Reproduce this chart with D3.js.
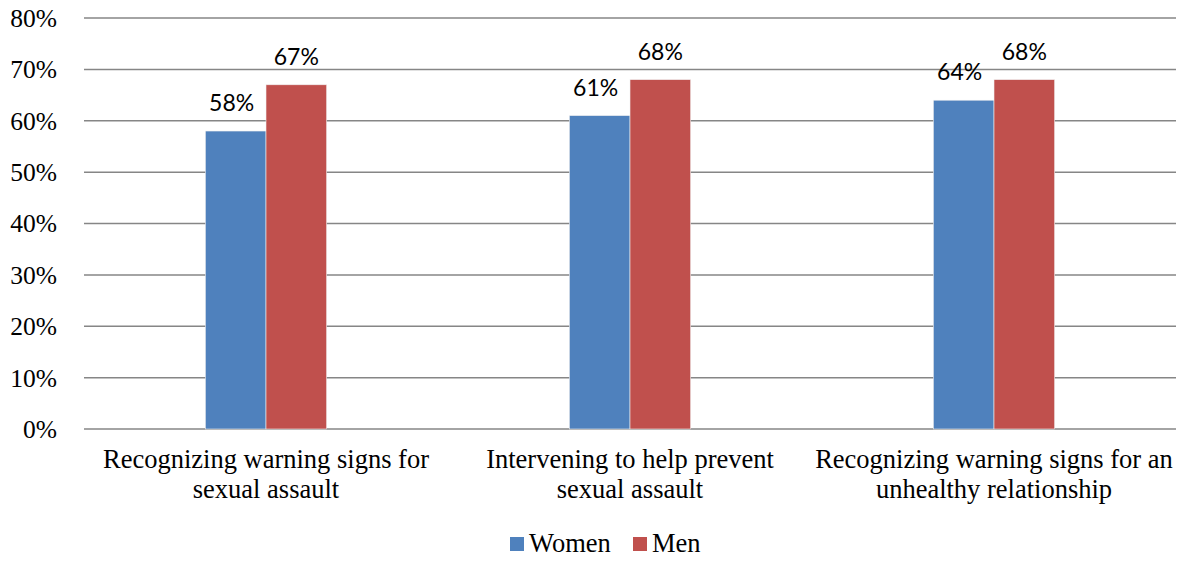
<!DOCTYPE html>
<html><head><meta charset="utf-8">
<script src="https://cdn.jsdelivr.net/npm/d3@7/dist/d3.min.js"></script>
<style>body{margin:0;background:#fff}svg{display:block}
.serif{font-family:"Liberation Serif","Tinos","Times New Roman","DejaVu Serif",serif;}
.sans{font-family:"Lato","Open Sans",sans-serif;}
</style>
</head><body>
<svg id="c" width="1182" height="561"></svg>
<script>
const categories = [
  ["Recognizing warning signs for", "sexual assault"],
  ["Intervening to help prevent", "sexual assault"],
  ["Recognizing warning signs for an", "unhealthy relationship"]
];
const seriesNames = ["Women", "Men"];
const women = [58, 61, 64];
const men = [67, 68, 68];
const yTicks = [0, 10, 20, 30, 40, 50, 60, 70, 80];
const colors = ["#4F81BD", "#C0504D"];

(function(){
const svg = d3.select("#c");
const pLeft = 84, pRight = 1176, pTop = 18, pBottom = 429;
const x = d3.scaleBand().domain(d3.range(categories.length)).range([pLeft, pRight]).padding(0);
const y = d3.scaleLinear().domain([0, 80]).range([pBottom, pTop]);
const xs = d3.scaleBand().domain(seriesNames).range([x.bandwidth()/3, x.bandwidth()*2/3]).padding(0);

svg.append("g").selectAll("line").data(yTicks).join("line")
  .attr("x1", pLeft).attr("x2", pRight)
  .attr("y1", d => y(d)).attr("y2", d => y(d))
  .attr("stroke", "#868686").attr("stroke-width", 1.5);

svg.append("g").selectAll("text").data(yTicks).join("text")
  .attr("class", "serif")
  .attr("x", 57).attr("y", d => y(d)).attr("dy", "0.35em")
  .attr("text-anchor", "end")
  .style("font-size", "25.5px").attr("fill", "#000")
  .text(d => d + "%");

const series = [women, men];
series.forEach((vals, si) => {
  const g = svg.append("g");
  g.selectAll("rect").data(vals).join("rect")
    .attr("x", (d, i) => x(i) + xs(seriesNames[si]))
    .attr("width", xs.bandwidth())
    .attr("y", d => y(d))
    .attr("height", d => y(0) - y(d))
    .attr("fill", colors[si])
    .attr("stroke", "#f0f0f0").attr("stroke-width", 0.6);
  g.selectAll("text").data(vals).join("text")
    .attr("class", "sans")
    .attr("x", (d, i) => x(i) + xs(seriesNames[si]) + xs.bandwidth()/2 - (si === 0 ? 4 : 0))
    .attr("y", d => y(d) - 20)
    .attr("text-anchor", "middle")
    .style("font-size", "23px").attr("fill", "#000")
    .text(d => d + "%");
});

const cl = svg.append("g").selectAll("text").data(categories).join("text")
  .attr("class", "serif")
  .attr("text-anchor", "middle")
  .style("font-size", "26.5px").attr("fill", "#000");
cl.selectAll("tspan").data((d, i) => d.map(t => ({t, i}))).join("tspan")
  .attr("x", d => x(d.i) + x.bandwidth()/2)
  .attr("y", (d, j) => 468 + j * 30)
  .text(d => d.t);

const leg = svg.append("g");
const legX = [510, 633];
seriesNames.forEach((n, i) => {
  leg.append("rect").attr("x", legX[i]).attr("y", 537).attr("width", 14).attr("height", 14).attr("fill", colors[i]);
  leg.append("text").attr("class", "serif").attr("x", legX[i] + 19).attr("y", 552)
    .style("font-size", "26.5px").attr("fill", "#000").text(n);
});
})();
</script>
</body></html>
